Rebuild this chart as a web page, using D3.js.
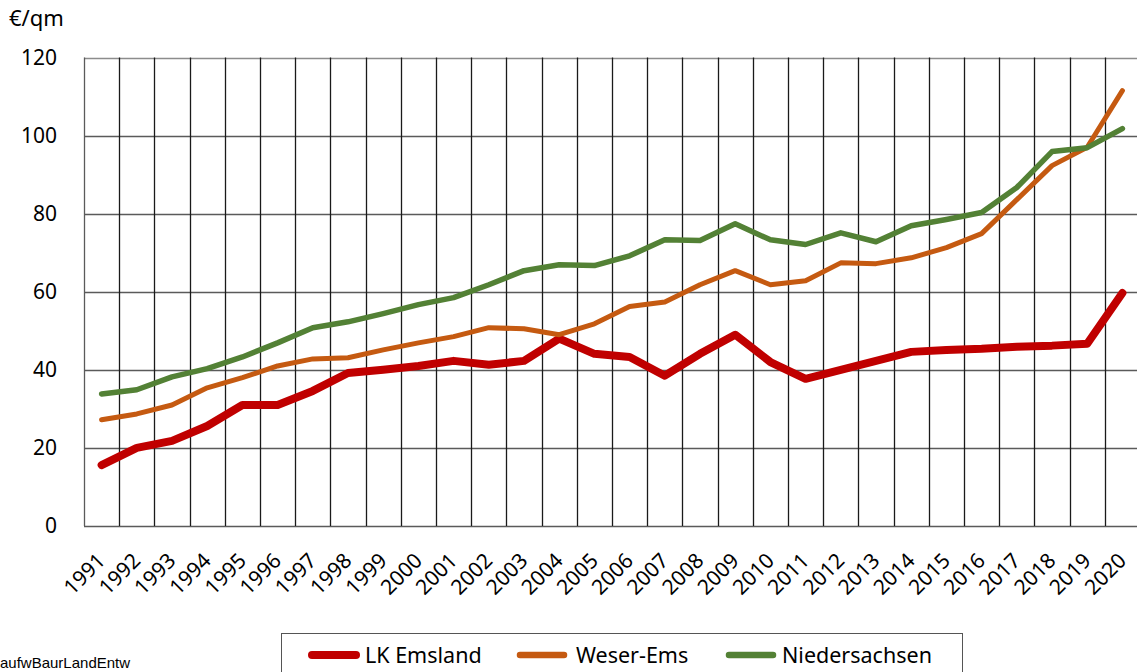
<!DOCTYPE html>
<html>
<head>
<meta charset="utf-8">
<script src="https://cdn.jsdelivr.net/npm/d3@7"></script>
<style>
	body { margin: 0; background: #fff; overflow: hidden; }
	svg { display: block; font-family: "Noto Sans", "Open Sans", sans-serif; }
</style>
</head>
<body>
<div id="chart"></div>
<script>
var years = ["1991", "1992", "1993", "1994", "1995", "1996", "1997", "1998", "1999", "2000",
	"2001", "2002", "2003", "2004", "2005", "2006", "2007", "2008", "2009", "2010",
	"2011", "2012", "2013", "2014", "2015", "2016", "2017", "2018", "2019", "2020"];

var emsland = [15.6, 20, 21.8, 25.6, 31, 31, 34.6, 39.2, 40, 41,
	42.3, 41.3, 42.3, 48, 44.1, 43.3, 38.5, 44.1, 49, 42,
	37.7, 40, 42.3, 44.6, 45.1, 45.4, 45.9, 46.2, 46.7, 59.7];

var weserEms = [27.2, 28.7, 31, 35.4, 38, 41, 42.8, 43.1, 45.1, 46.9,
	48.5, 50.8, 50.5, 49, 51.8, 56.2, 57.4, 61.8, 65.4, 61.8,
	62.8, 67.4, 67.2, 68.7, 71.3, 74.9, 83.6, 92.3, 97, 111.5];

var niedersachsen = [33.8, 34.9, 38.2, 40.3, 43.3, 46.9, 50.8, 52.3, 54.4, 56.7,
	58.5, 61.8, 65.4, 66.9, 66.7, 69.2, 73.3, 73.1, 77.4, 73.3,
	72.1, 75.1, 72.8, 76.9, 78.5, 80.3, 86.7, 95.9, 96.9, 101.8];

var yTicks = [0, 20, 40, 60, 80, 100, 120];
var seriesNames = ["LK Emsland", "Weser-Ems", "Niedersachsen"];

var series = [
	{name: seriesNames[0], values: emsland, color: "#c00000", width: 8},
	{name: seriesNames[1], values: weserEms, color: "#c55a11", width: 5},
	{name: seriesNames[2], values: niedersachsen, color: "#538135", width: 5.5}
];

var svg = d3.select("#chart").append("svg")
	.attr("width", 1137)
	.attr("height", 672);

var xScale = d3.scaleBand()
	.domain(years)
	.range([84, 84 + 30 * 35.2])
	.padding(0);

var yScale = d3.scaleLinear()
	.domain([0, 120])
	.range([526, 57.5]);

var xMap = function(d, i) { return xScale(years[i]) + xScale.bandwidth() / 2; };

// horizontale Gitterlinien
svg.append("g")
	.selectAll("line")
	.data(yTicks)
	.enter()
	.append("line")
	.attr("x1", 84)
	.attr("x2", 1137)
	.attr("y1", function(d) { return Math.round(yScale(d)) + 0.5; })
	.attr("y2", function(d) { return Math.round(yScale(d)) + 0.5; })
	.attr("stroke", function(d) { return d === 120 ? "#8c8c8c" : "#5a5a5a"; })
	.attr("stroke-width", 1.3);

// vertikale Gitterlinien an den Kategoriegrenzen
svg.append("g")
	.selectAll("line")
	.data(years)
	.enter()
	.append("line")
	.attr("x1", function(d) { return Math.round(xScale(d)) + 0.5; })
	.attr("x2", function(d) { return Math.round(xScale(d)) + 0.5; })
	.attr("y1", yScale(120))
	.attr("y2", yScale(0))
	.attr("stroke", function(d, i) { return i === 0 ? "#5a5a5a" : "#1a1a1a"; })
	.attr("stroke-width", 1.3);

// y-Achse
var yAxis = d3.axisLeft(yScale).tickValues(yTicks).tickSize(0).tickPadding(27);
var gy = svg.append("g")
	.attr("transform", "translate(84,0)")
	.call(yAxis);
gy.select(".domain").remove();
gy.selectAll("text")
	.style("font-size", "21px")
	.style("font-family", "\"Noto Sans\", sans-serif")
	.attr("fill", "#000");

svg.append("text")
	.attr("x", 9)
	.attr("y", 26)
	.style("font-size", "22px")
	.text("€/qm");

// x-Achse
var xAxis = d3.axisBottom(xScale).tickSize(0).tickPadding(0);
var gx = svg.append("g")
	.attr("transform", "translate(0,526)")
	.call(xAxis);
gx.select(".domain").remove();
gx.selectAll("text")
	.style("font-size", "21px")
	.style("font-family", "\"Noto Sans\", sans-serif")
	.attr("fill", "#000")
	.attr("text-anchor", "end")
	.attr("dy", "0")
	.attr("transform", "translate(5,36) rotate(-45)");

// Linien
var line = d3.line()
	.x(xMap)
	.y(function(d) { return yScale(d); });

svg.append("g")
	.selectAll("path")
	.data(series)
	.enter()
	.append("path")
	.attr("d", function(d) { return line(d.values); })
	.attr("fill", "none")
	.attr("stroke", function(d) { return d.color; })
	.attr("stroke-width", function(d) { return d.width; })
	.attr("stroke-linecap", "round")
	.attr("stroke-linejoin", "round");

// Legende
var legend = svg.append("g");
legend.append("rect")
	.attr("x", 281.5)
	.attr("y", 633.5)
	.attr("width", 681)
	.attr("height", 60)
	.attr("fill", "#fff")
	.attr("stroke", "#555")
	.attr("stroke-width", 1);

var legendX = [309, 517, 726];
var items = legend.selectAll("g.item")
	.data(series)
	.enter()
	.append("g")
	.attr("class", "item")
	.attr("transform", function(d, i) { return "translate(" + legendX[i] + ",655)"; });

items.append("line")
	.attr("x1", 3)
	.attr("x2", 47)
	.attr("y1", 0)
	.attr("y2", 0)
	.attr("stroke", function(d) { return d.color; })
	.attr("stroke-width", function(d, i) { return i === 0 ? 8 : 6.5; })
	.attr("stroke-linecap", "round");

items.append("text")
	.attr("x", function(d, i) { return [56, 59, 56][i]; })
	.attr("y", 8)
	.style("font-size", "21.5px")
	.text(function(d) { return d.name; });

// Quelle (links abgeschnitten)
svg.append("text")
	.attr("x", 0)
	.attr("y", 668)
	.style("font-size", "15px")
	.style("font-family", "\"Liberation Sans\", Arial, sans-serif")
	.text("aufwBaurLandEntw");
</script>
</body>
</html>
